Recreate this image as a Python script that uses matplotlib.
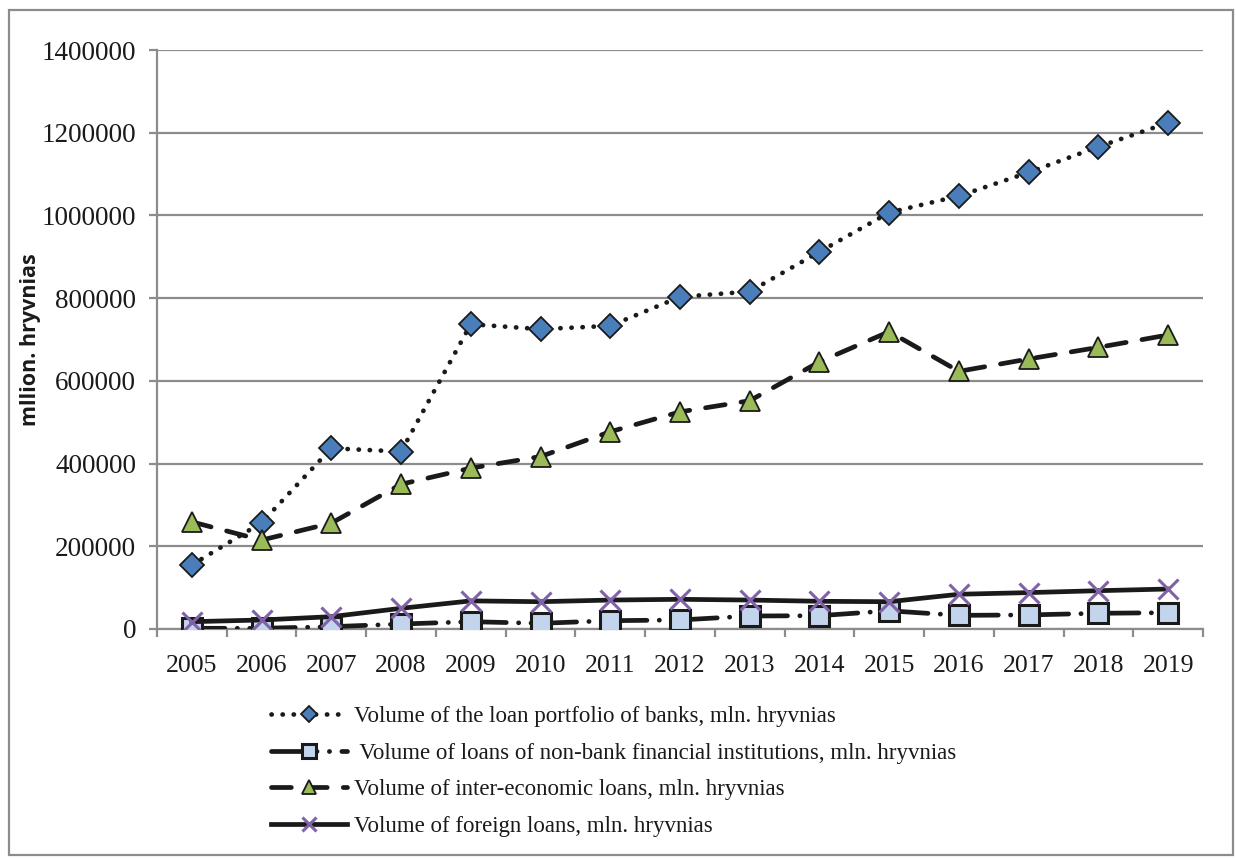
import matplotlib.pyplot as plt
import numpy as np
from matplotlib.patches import Rectangle
from matplotlib.ticker import FuncFormatter

years = ['2005', '2006', '2007', '2008', '2009', '2010', '2011', '2012',
         '2013', '2014', '2015', '2016', '2017', '2018', '2019']
banks = [155000, 257000, 437000, 429000, 737000, 725000, 733000, 803000,
         816000, 912000, 1007000, 1047000, 1104000, 1166000, 1224000]
nonbank = [1700, 1700, 5600, 12000, 17700, 13700, 20100, 21800,
           31400, 32200, 44000, 33000, 34000, 38000, 39400]
inter = [259000, 215000, 256000, 350000, 389000, 417000, 477000, 525000,
         552000, 646000, 719000, 623000, 653000, 681000, 711000]
foreign = [17700, 21800, 29800, 50000, 68000, 66000, 70000, 71800,
           70000, 67000, 66000, 84000, 88000, 92600, 96700]

labels = ['Volume of the loan portfolio of banks, mln. hryvnias',
          ' Volume of loans of non-bank financial institutions, mln. hryvnias',
          'Volume of inter-economic loans, mln. hryvnias',
          'Volume of foreign loans, mln. hryvnias']

serif = 'Liberation Serif'
W, H = 1236, 859
fig = plt.figure(figsize=(W / 100, H / 100), dpi=100)
fig.patches.append(Rectangle((9 / W, 1 - 855 / H), 1224 / W, 845 / H,
                             transform=fig.transFigure, fill=False,
                             edgecolor='#8c8c8c', lw=1.6))
ax = fig.add_axes([157 / W, 1 - 629 / H, 1046 / W, 579 / H])
x = np.arange(len(years))
lw = 3.4

ax.plot(x, banks, color='#1a1a1a', lw=lw, linestyle=(0, (0.05, 2.3)),
        dash_capstyle='round', marker='D', ms=12, mfc='#4a7ebb', mec='#1a1a1a',
        mew=1.3, label=labels[0], zorder=4)
ax.plot(x, nonbank, color='#1a1a1a', lw=lw,
        linestyle=(0, (7, 2.6, 0.05, 2.6, 0.05, 2.6)), dash_capstyle='round',
        marker='s', ms=15, mfc='#c3d5ec', mec='#1a1a1a', mew=2.2,
        label=labels[1], zorder=3)
ax.plot(x, inter, color='#1a1a1a', lw=lw, linestyle=(0, (4.2, 3.4)),
        dash_capstyle='round', marker='^', ms=15, mfc='#9bbb59', mec='#1a1a1a',
        mew=1.3, label=labels[2], zorder=4)
ax.plot(x, foreign, color='#1a1a1a', lw=lw, marker='x', ms=15, mec='#7f62a8',
        mew=2.2, label=labels[3], zorder=5)

ax.set_xlim(-0.5, len(years) - 0.5)
ax.set_ylim(0, 1400000)
ax.set_yticks(np.arange(0, 1400001, 200000))
ax.yaxis.set_major_formatter(FuncFormatter(lambda v, p: '%d' % v))
ax.yaxis.grid(True, color='#8c8c8c', lw=1.6)
ax.set_axisbelow(True)
for s in ['top', 'right']:
    ax.spines[s].set_visible(False)
for s in ['left', 'bottom']:
    ax.spines[s].set_color('#8c8c8c')
    ax.spines[s].set_linewidth(1.6)

ax.set_xticks(x)
ax.set_xticklabels(years, fontfamily=serif, fontsize=18.5, color='#1a1a1a')
ax.set_xticks(np.arange(-0.5, len(years)), minor=True)
ax.tick_params(axis='x', which='major', length=0, pad=19)
ax.tick_params(axis='x', which='minor', length=6, width=1.6, color='#8c8c8c')
ax.tick_params(axis='y', length=6, width=1.6, color='#8c8c8c', pad=9)
for t in ax.get_yticklabels():
    t.set_fontfamily(serif)
    t.set_fontsize(19.5)
    t.set_color('#1a1a1a')

ax.set_ylabel('mllion. hryvnias', fontfamily='Open Sans', fontweight='bold',
              fontsize=15.5, color='#1a1a1a')
ax.yaxis.set_label_coords(-0.111, 0.5)

fig.legend(loc='upper left', bbox_to_anchor=(262 / W, 1 - 697 / H),
           frameon=False, prop={'family': serif, 'size': 16.5},
           handlelength=3.3, handletextpad=0.3, labelspacing=0.68,
           borderaxespad=0, labelcolor='#1a1a1a', markerscale=0.65)

fig.savefig('out.png', dpi=100)
